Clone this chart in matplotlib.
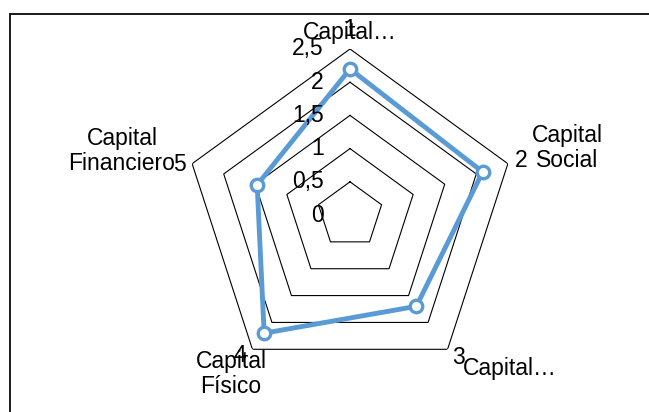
import numpy as np
import matplotlib.pyplot as plt
from matplotlib.patches import Rectangle

# Category numbers and names (the chart uses two-level labels)
cat_numbers = ["1", "2", "3", "4", "5"]
cat_names = ["Capital…", "Capital\nSocial", "Capital…", "Capital\nFísico", "Capital\nFinanciero"]
values = [2.2, 2.1, 1.7, 2.2, 1.47]
ring_values = [0.5, 1.0, 1.5, 2.0, 2.5]
tick_labels = ["0", "0,5", "1", "1,5", "2", "2,5"]
tick_values = [0, 0.5, 1.0, 1.5, 2.0, 2.5]

W, H = 649, 412


def px(x, y):
    # pixel (from top-left) -> figure fraction
    return x / W, 1 - y / H


def main():
    plt.rcParams['font.family'] = ['Liberation Sans', 'DejaVu Sans']
    fig = plt.figure(figsize=(W / 100, H / 100), dpi=100)

    # outer chart frame
    fig.patches.append(Rectangle(px(10, 430), 650 / W, 416 / H, transform=fig.transFigure,
                                 fill=False, edgecolor='#1a1a1a', linewidth=1.4, clip_on=False))

    r_px = 166
    cx, cy = 350, 215
    left, bottom = px(cx - r_px, cy + r_px)
    ax = fig.add_axes([left, bottom, 2 * r_px / W, 2 * r_px / H], projection='polar')
    ax.set_theta_zero_location("N")
    ax.set_theta_direction(-1)
    ax.set_ylim(0, 2.5)
    ax.grid(False)
    ax.spines['polar'].set_visible(False)
    ax.set_xticks([])
    ax.set_yticks([])
    ax.patch.set_alpha(0)

    n = len(cat_numbers)
    theta = np.linspace(0, 2 * np.pi, n, endpoint=False)
    theta_closed = np.append(theta, theta[0])

    # pentagon grid
    for rv in ring_values:
        ax.plot(theta_closed, [rv] * (n + 1), color='black', linewidth=0.8, zorder=1)

    # data series
    vals = np.append(values, values[0])
    ax.plot(theta_closed, vals, color='#5B9BD5', linewidth=3.5, zorder=3,
            solid_joinstyle='miter')
    ax.plot(theta, values, linestyle='none', marker='o', markersize=9,
            markerfacecolor='white', markeredgecolor='#5B9BD5', markeredgewidth=2.4, zorder=4)

    # radial tick labels
    for tv, tl in zip(tick_values, tick_labels):
        ax.annotate(tl, xy=(0, tv), xytext=(-19, 0), textcoords='offset points',
                    ha='right', va='center', fontsize=16.5, clip_on=False)

    # category labels
    fs = 16.5
    num_pos = [(350, 29), (521, 161), (458, 358), (240, 355), (179, 165)]
    name_pos = [(350, 32), (567, 148), (510, 369), (231, 374), (122, 151)]
    for (x, y), t in zip(num_pos, cat_numbers):
        fig.text(*px(x, y), t, ha='center', va='center', fontsize=fs)
    for (x, y), t in zip(name_pos, cat_names):
        fig.text(*px(x, y), t, ha='center', va='center', fontsize=fs,
                 linespacing=1.15, multialignment='center')

    fig.savefig("out.png", dpi=100)


if __name__ == '__main__':
    main()
